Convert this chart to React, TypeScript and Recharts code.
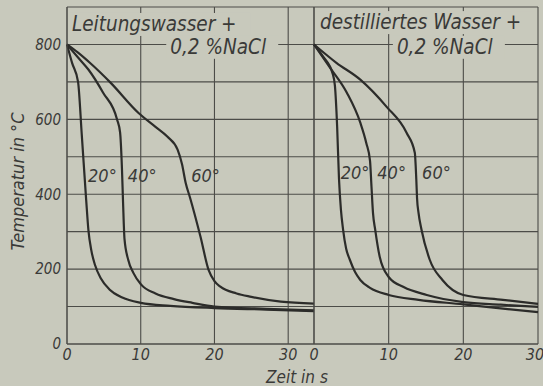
import React from 'react';
import { LineChart, Line, XAxis, YAxis, CartesianGrid, ReferenceDot } from 'recharts';

// Leitungswasser + 0,2 % NaCl (left panel)
const tapTime20 = [0, 0.7, 1.5, 2.0, 2.6, 2.9, 3.3, 3.8, 4.6, 5.8, 7.5, 10, 14, 20, 27, 33.5];
const tapTemp20 = [800, 750, 700, 560, 385, 305, 250, 211, 175, 145, 124, 110, 102, 96, 92, 88];
const tapTime40 = [0, 1.5, 2.9, 4.9, 6.8, 7.2, 7.45, 7.6, 7.8, 8.3, 9, 10, 12, 14.5, 17, 20, 27, 33.5];
const tapTemp40 = [800, 765, 733, 671, 599, 565, 470, 380, 280, 225, 190, 160, 135, 120, 110, 100, 94, 90];
const tapTime60 = [0, 1.5, 3.1, 5.9, 9.7, 12, 13.6, 15, 15.6, 16.1, 16.7, 18.1, 19.2, 20, 20.8, 23, 25, 29, 33.5];
const tapTemp60 = [800, 778, 751, 698, 617, 580, 554, 519, 480, 430, 390, 287, 198, 168, 153, 135, 126, 113, 108];

// destilliertes Wasser + 0,2 % NaCl (right panel)
const distTime20 = [0, 1.2, 2.5, 2.8, 3.1, 3.35, 3.6, 3.9, 4.3, 4.8, 5.5, 6.2, 7.5, 10, 14, 20, 25, 30];
const distTemp20 = [800, 768, 722, 690, 580, 440, 360, 305, 255, 225, 192, 171, 150, 131, 118, 106, 95, 85];
const distTime40 = [0, 2, 4.4, 6.2, 7.0, 7.5, 7.7, 7.9, 8.2, 8.8, 10, 12, 15.1, 20, 25, 30];
const distTemp40 = [800, 742, 671, 591, 537, 490, 420, 350, 305, 233, 179, 152, 131, 112, 105, 99];
const distTime60 = [0, 3, 6.2, 9.7, 12.4, 13.5, 13.7, 13.8, 14.0, 14.4, 15.5, 17.2, 20, 25.3, 30];
const distTemp60 = [800, 751, 706, 634, 564, 511, 440, 390, 350, 305, 225, 171, 131, 118, 107];

const tempTicks = [0, 100, 200, 300, 400, 500, 600, 700, 800, 900];
const tempLabels = [0, 200, 400, 600, 800];
const timeTicks = [0, 10, 20, 30];

// curve labels: [time, temp, text]
const tapNotes: [number, number, string][] = [[4.8, 451, '20°'], [10.2, 451, '40°'], [18.8, 451, '60°']];
const distNotes: [number, number, string][] = [[5.5, 459, '20°'], [10.4, 459, '40°'], [16.4, 459, '60°']];

const zip = (t: number[], v: number[]) => t.map((x, i) => ({ t: x, v: v[i] }));

const paper = '#c8c9bc';
const ink = '#2c2c2a';
const gridInk = '#4c4c48';
const font = "'DejaVu Sans Condensed', 'DejaVu Sans', sans-serif";
const textStyle = { fontFamily: font, fontStyle: 'italic' as const, fill: '#3a3a38' };

const CurveLabel = (text: string) => (p: any) => (
  <text x={p.cx} y={p.cy} textAnchor="middle" dominantBaseline="central" fontSize={18} {...textStyle}>
    {text}
  </text>
);

// title text with a paper-coloured box behind it
const Title = (text: string, boxW: number, size: number) => (p: any) => (
  <g>
    <rect x={p.cx - 4} y={p.cy - 18} width={boxW} height={23} fill={paper} />
    <text x={p.cx} y={p.cy} fontSize={size} {...textStyle}>{text}</text>
  </g>
);

const curves = (prefix: string, sets: number[][][]) =>
  sets.map(([t, v], i) => (
    <Line
      key={prefix + i}
      data={zip(t, v)}
      dataKey="v"
      type="monotone"
      stroke={ink}
      strokeWidth={2.2}
      dot={false}
      isAnimationActive={false}
    />
  ));

export default function App() {
  return (
    <div style={{ position: 'absolute', left: 0, top: 0, width: 543, height: 386, background: paper, overflow: 'hidden' }}>
      <LineChart
        width={360}
        height={386}
        margin={{ top: 7, right: 46, left: 0, bottom: 12 }}
        style={{ position: 'absolute', left: 0, top: 0 }}
      >
        <CartesianGrid stroke={gridInk} strokeWidth={1.1} />
        <XAxis
          dataKey="t"
          type="number"
          domain={[0, 33.5]}
          ticks={timeTicks}
          allowDuplicatedCategory={false}
          tickLine={false}
          tickSize={3}
          axisLine={{ stroke: gridInk }}
          tick={{ ...textStyle, fontSize: 16 }}
          label={{
            content: (p: any) => (
              <text x={p.viewBox.x + p.viewBox.width - 17} y={p.viewBox.y + 32.5} textAnchor="middle" dominantBaseline="central" fontSize={17} {...textStyle}>
                Zeit in s
              </text>
            ),
          }}
        />
        <YAxis
          type="number"
          domain={[0, 900]}
          ticks={tempTicks}
          width={67}
          tickLine={false}
          tickSize={4}
          axisLine={{ stroke: gridInk }}
          tick={{ ...textStyle, fontSize: 15 }}
          tickFormatter={(v: number) => (tempLabels.includes(v) ? String(v) : '')}
          label={{
            content: (p: any) => {
              const cx = p.viewBox.x + 17;
              const cy = p.viewBox.y + p.viewBox.height / 2 + 6;
              return (
                <text x={cx} y={cy} transform={`rotate(-90 ${cx} ${cy})`} textAnchor="middle" dominantBaseline="central" fontSize={18} {...textStyle}>
                  Temperatur in °C
                </text>
              );
            },
          }}
        />
        <ReferenceDot x={0.68} y={836} r={0} shape={Title('Leitungswasser +', 182, 20.5)} />
        <ReferenceDot x={14} y={775} r={0} shape={Title('0,2 %NaCl', 112, 20.5)} />
        {curves('tap', [[tapTime20, tapTemp20], [tapTime40, tapTemp40], [tapTime60, tapTemp60]])}
        {tapNotes.map(([t, v, s]) => (
          <ReferenceDot key={s} x={t} y={v} r={0} shape={CurveLabel(s)} />
        ))}
      </LineChart>

      <LineChart
        width={243}
        height={386}
        margin={{ top: 7, right: 5, left: 14, bottom: 12 }}
        style={{ position: 'absolute', left: 300, top: 0 }}
      >
        <CartesianGrid stroke={gridInk} strokeWidth={1.1} />
        <XAxis
          dataKey="t"
          type="number"
          domain={[0, 30]}
          ticks={timeTicks}
          allowDuplicatedCategory={false}
          tickLine={false}
          tickSize={3}
          axisLine={{ stroke: gridInk }}
          tick={{ ...textStyle, fontSize: 16 }}
        />
        <YAxis type="number" domain={[0, 900]} ticks={tempTicks} hide />
        <ReferenceDot x={0.8} y={841} r={0} shape={Title('destilliertes Wasser +', 218, 20.5)} />
        <ReferenceDot x={11.1} y={775} r={0} shape={Title('0,2 %NaCl', 112, 20.5)} />
        {curves('dist', [[distTime20, distTemp20], [distTime40, distTemp40], [distTime60, distTemp60]])}
        {distNotes.map(([t, v, s]) => (
          <ReferenceDot key={s} x={t} y={v} r={0} shape={CurveLabel(s)} />
        ))}
      </LineChart>
    </div>
  );
}
